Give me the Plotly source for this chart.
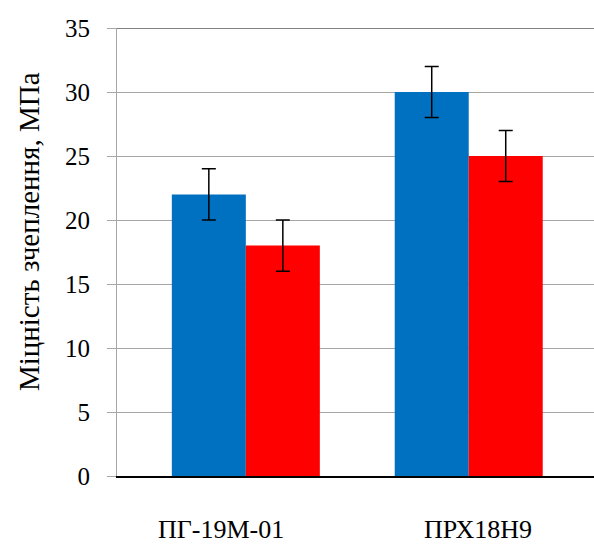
import plotly.graph_objects as go

categories = ["ПГ-19М-01", "ПРХ18Н9"]
series_a = [22, 30]
series_b = [18, 25]
err_a = [2, 2]
err_b = [2, 2]
y_ticks = [0, 5, 10, 15, 20, 25, 30, 35]
y_title = "Міцність зчеплення, МПа"
label_shift = [-25, 9]

FONT = "Liberation Serif, Times New Roman, serif"

fig = go.Figure()
fig.add_trace(go.Bar(
    x=categories, y=series_a, marker=dict(color="#0070C0", line=dict(width=0)),
    error_y=dict(type="data", array=err_a, color="black", thickness=1.5, width=7),
))
fig.add_trace(go.Bar(
    x=categories, y=series_b, marker=dict(color="#FF0000", line=dict(width=0)),
    error_y=dict(type="data", array=err_b, color="black", thickness=1.5, width=7),
))

for i, c in enumerate(categories):
    fig.add_annotation(x=c, y=0, xref="x", yref="y", text=c, showarrow=False,
                       yanchor="top", yshift=-38, xshift=label_shift[i], borderpad=0,
                       font=dict(family=FONT, size=26, color="black"))

fig.add_annotation(x=-0.184, y=0.545, xref="paper", yref="paper", text=y_title,
                   showarrow=False, textangle=-90, xanchor="center", yanchor="middle",
                   font=dict(family=FONT, size=29, color="black"))

fig.add_shape(type="line", xref="paper", yref="y", x0=0, x1=1, y0=35, y1=35,
              line=dict(color="#595959", width=1.5))

fig.update_layout(
    width=594, height=545,
    margin=dict(l=117, r=0, t=28, b=69),
    paper_bgcolor="white", plot_bgcolor="white",
    showlegend=False,
    barmode="group", bargap=0.336, bargroupgap=0,
    font=dict(family=FONT, size=25, color="black"),
    xaxis=dict(range=[-0.578, 1.562], showticklabels=False, showgrid=False,
               showline=True, linecolor="black", linewidth=1.5, ticks="",
               zeroline=False),
    yaxis=dict(range=[0, 35], tickvals=y_ticks, showgrid=True, gridcolor="#A6A6A6",
               gridwidth=1.2, showline=True, linecolor="#A6A6A6", linewidth=1.2,
               ticks="outside", ticklen=9, tickcolor="#A6A6A6", tickwidth=1.2,
               zeroline=False, ticklabelstandoff=12,
               tickfont=dict(family=FONT, size=25, color="black")),
)

fig.write_html("out.html", config={"displayModeBar": False},
               post_script="document.body.style.margin='0';")
